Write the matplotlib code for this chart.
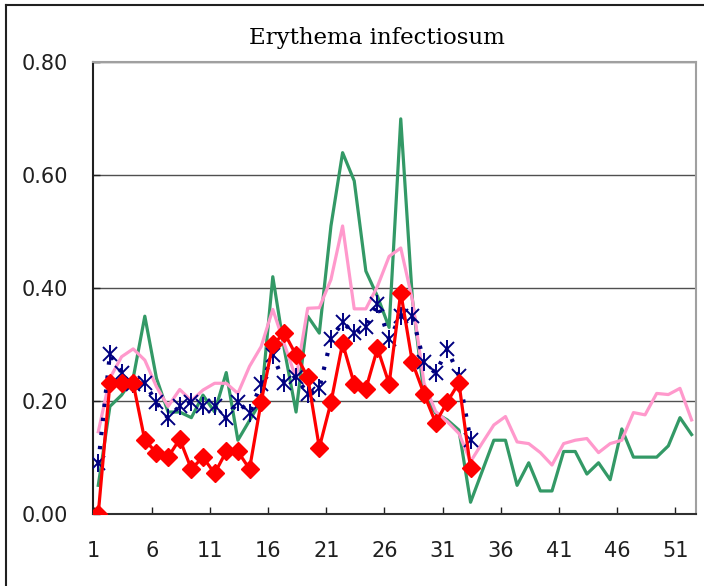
#!/usr/bin/env python3
# -*- coding: utf-8 -*-

# Erythema infectiosum, weekly reports per sentinel

import numpy as np
import matplotlib
matplotlib.use("Agg")
import matplotlib.pyplot as plt
from matplotlib.lines import Line2D

weeks = np.arange(1, 53)
weeks_short = np.arange(1, 34)
tick_weeks = np.arange(1, 52, 5)
tick_labels = [str(w) for w in tick_weeks]
y_ticks = [0.0, 0.2, 0.4, 0.6, 0.8]
y_labels = ["0.00", "0.20", "0.40", "0.60", "0.80"]

green = [0.05, 0.19, 0.21, 0.24, 0.35, 0.24, 0.18, 0.18, 0.17, 0.21,
         0.18, 0.25, 0.13, 0.165, 0.20, 0.42, 0.29, 0.18, 0.35, 0.32,
         0.51, 0.64, 0.59, 0.43, 0.385, 0.33, 0.70, 0.38, 0.21, 0.178,
         0.166, 0.148, 0.02, 0.075, 0.13, 0.13, 0.05, 0.09, 0.04, 0.04,
         0.11, 0.11, 0.07, 0.09, 0.06, 0.15, 0.10, 0.10, 0.10, 0.12,
         0.17, 0.14]

pink = [0.145, 0.24, 0.278, 0.292, 0.272, 0.225, 0.19, 0.22, 0.20, 0.219,
        0.231, 0.231, 0.213, 0.261, 0.296, 0.362, 0.30, 0.24, 0.364, 0.365,
        0.415, 0.51, 0.363, 0.363, 0.403, 0.456, 0.471, 0.379, 0.231, 0.181,
        0.163, 0.142, 0.092, 0.125, 0.157, 0.172, 0.127, 0.124, 0.108, 0.086,
        0.124, 0.130, 0.133, 0.108, 0.124, 0.130, 0.179, 0.175, 0.213, 0.211,
        0.222, 0.166]

navy = [0.089, 0.283, 0.250, 0.230, 0.231, 0.197, 0.169, 0.191, 0.198, 0.190,
        0.190, 0.169, 0.198, 0.178, 0.230, 0.281, 0.231, 0.243, 0.212, 0.222,
        0.309, 0.339, 0.320, 0.330, 0.372, 0.309, 0.350, 0.350, 0.268, 0.249,
        0.292, 0.244, 0.130]

red = [0.00, 0.231, 0.231, 0.231, 0.130, 0.108, 0.100, 0.132, 0.079, 0.100,
       0.071, 0.110, 0.110, 0.079, 0.198, 0.300, 0.320, 0.281, 0.242, 0.117,
       0.197, 0.302, 0.230, 0.221, 0.293, 0.230, 0.392, 0.268, 0.212, 0.161,
       0.198, 0.232, 0.080]


def make_chart():
    fig = plt.figure(figsize=(7.04, 5.86), dpi=100)
    ax = fig.add_axes([0.1325, 0.1237, 0.856, 0.7697])

    ax.plot(weeks, green, color="#339966", lw=2.3, zorder=2)
    ax.plot(weeks, pink, color="#FF99CC", lw=2.3, zorder=3)
    ax.plot(weeks_short, navy, color="#000080", lw=3,
            ls=(0, (0.8, 2.6)), zorder=4)
    # excel style star: an x with a vertical bar
    ax.plot(weeks_short, navy, ls="none", marker="x", ms=10, mew=1.4,
            color="#000080", zorder=4)
    ax.plot(weeks_short, navy, ls="none", marker="|", ms=13, mew=1.4,
            color="#000080", zorder=4)
    ax.plot(weeks_short, red, color="#FF0000", lw=2.3, marker="D", ms=9,
            mec="#FF0000", mfc="#FF0000", zorder=5)

    ax.set_xlim(0.57, 52.37)
    ax.set_ylim(0, 0.8)
    ax.set_xticks(tick_weeks - 0.4)
    ax.set_xticklabels(tick_labels)
    ax.set_yticks(y_ticks)
    ax.set_yticklabels(y_labels)

    ax.grid(axis="y", color="#505050", lw=1)
    ax.set_axisbelow(True)
    ax.tick_params(axis="x", direction="in", length=5, width=1,
                   pad=20, labelsize=15, colors="#202020")
    ax.tick_params(axis="y", direction="in", length=5, width=1,
                   pad=18, labelsize=15, colors="#202020")

    ax.spines["left"].set_color("#202020")
    ax.spines["left"].set_linewidth(1.5)
    ax.spines["bottom"].set_color("#303030")
    ax.spines["bottom"].set_linewidth(1.5)
    ax.spines["top"].set_color("#a0a0a0")
    ax.spines["top"].set_linewidth(1.5)
    ax.spines["right"].set_color("#a0a0a0")
    ax.spines["right"].set_linewidth(1.5)

    fig.text(0.536, 1 - 38 / 586, "Erythema infectiosum", ha="center",
             va="center", family="DejaVu Serif", fontsize=16.5)

    # chart frame, only left and top edges show in the crop
    fig.add_artist(Line2D([6 / 704, 6 / 704], [0, 1 - 5 / 586],
                          color="#202020", lw=1.5))
    fig.add_artist(Line2D([6 / 704, 1], [1 - 5 / 586, 1 - 5 / 586],
                          color="#202020", lw=1.5))

    fig.savefig("out.png", dpi=100)


if __name__ == "__main__":
    make_chart()
